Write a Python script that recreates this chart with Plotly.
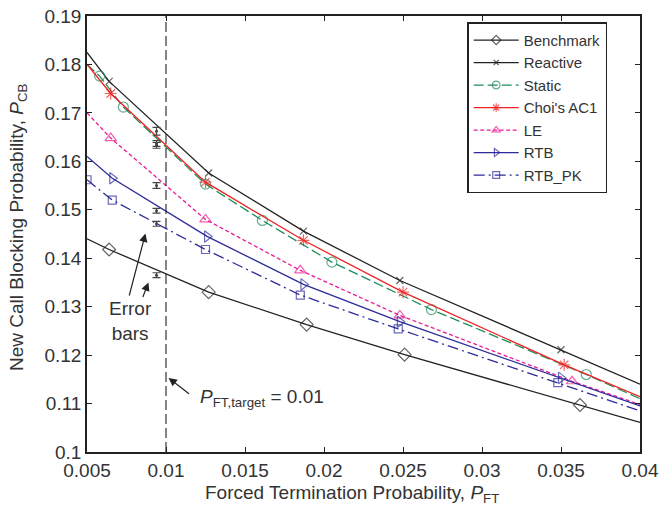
import plotly.graph_objects as go

# ---- data ----
x_ticks = [0.005, 0.01, 0.015, 0.02, 0.025, 0.03, 0.035, 0.04]
x_tick_labels = ["0.005", "0.01", "0.015", "0.02", "0.025", "0.03", "0.035", "0.04"]
y_ticks = [0.1, 0.11, 0.12, 0.13, 0.14, 0.15, 0.16, 0.17, 0.18, 0.19]
y_tick_labels = ["0.1", "0.11", "0.12", "0.13", "0.14", "0.15", "0.16", "0.17", "0.18", "0.19"]

# curve points (flag 0 = curve end drawn without a marker)
bench_x = [0.005, 0.0064, 0.0127, 0.0189, 0.0251, 0.0362, 0.04]
bench_y = [0.1440, 0.1418, 0.1330, 0.1263, 0.1201, 0.1097, 0.1061]
bench_m = [0, 1, 1, 1, 1, 1, 0]

react_x = [0.005, 0.0064, 0.0127, 0.0187, 0.0248, 0.0350, 0.04]
react_y = [0.1825, 0.1765, 0.1576, 0.1456, 0.1354, 0.1211, 0.1140]
react_m = [0, 1, 1, 1, 1, 1, 0]

static_x = [0.005, 0.0058, 0.0073, 0.0125, 0.0161, 0.0205, 0.0268, 0.0366, 0.04]
static_y = [0.1800, 0.1776, 0.1712, 0.1553, 0.1478, 0.1392, 0.1294, 0.1160, 0.1110]
static_m = [0, 1, 1, 1, 1, 1, 1, 1, 0]

choi_x = [0.005, 0.0065, 0.0125, 0.0187, 0.0250, 0.0352, 0.04]
choi_y = [0.1800, 0.1740, 0.1557, 0.1437, 0.1330, 0.1180, 0.1114]
choi_m = [0, 1, 1, 1, 1, 1, 0]

le_x = [0.005, 0.0065, 0.0125, 0.0185, 0.0248, 0.0357, 0.04]
le_y = [0.1700, 0.1648, 0.1480, 0.1375, 0.1282, 0.1146, 0.1098]
le_m = [0, 1, 1, 1, 1, 1, 0]

rtb_x = [0.005, 0.0066, 0.0126, 0.0187, 0.0248, 0.0350, 0.04]
rtb_y = [0.1610, 0.1565, 0.1445, 0.1346, 0.1269, 0.1153, 0.1095]
rtb_m = [0, 1, 1, 1, 1, 1, 0]

rtbpk_x = [0.005, 0.0066, 0.0125, 0.0185, 0.0247, 0.0348, 0.04]
rtbpk_y = [0.1562, 0.1520, 0.1418, 0.1324, 0.1254, 0.1143, 0.1085]
rtbpk_m = [1, 1, 1, 1, 1, 1, 0]

# error bars at P_FT ~ target
err_x = [0.0094, 0.0094, 0.0094, 0.0094, 0.0094, 0.0094, 0.0094]
err_y = [0.1662, 0.1637, 0.1633, 0.1550, 0.1498, 0.1471, 0.1365]
err_h = [0.0008, 0.0006, 0.0006, 0.0006, 0.0005, 0.0005, 0.0005]

target_x = 0.01

series = [
    ("Benchmark", bench_x, bench_y, bench_m, "#222222", "solid", "diamond-open", 10),
    ("Reactive", react_x, react_y, react_m, "#222222", "solid", "x-thin-open", 7),
    ("Static", static_x, static_y, static_m, "#1e8c5c", "10px,4px", "circle-open", 10),
    ("Choi's AC1", choi_x, choi_y, choi_m, "#ee2222", "solid", "asterisk-open", 10),
    ("LE", le_x, le_y, le_m, "#ea1a92", "4px,2.5px", "triangle-up-open", 10),
    ("RTB", rtb_x, rtb_y, rtb_m, "#2b2b9b", "solid", "triangle-right-open", 10),
    ("RTB_PK", rtbpk_x, rtbpk_y, rtbpk_m, "#2b2b9b", "11px,4px,2px,4px", "square-open", 8),
]

fig = go.Figure()
for name, xs, ys, ms, col, dash, sym, sz in series:
    fig.add_trace(go.Scatter(
        x=xs, y=ys, name=name, mode="lines+markers",
        line=dict(color=col, width=1.3, dash=dash),
        marker=dict(symbol=sym, size=[sz if m else 0 for m in ms], color=col,
                    line=dict(color=col, width=1.2)),
    ))

fig.add_trace(go.Scatter(
    x=err_x, y=err_y, mode="markers", showlegend=False,
    marker=dict(size=3, color="#444444"),
    error_y=dict(type="data", array=err_h, color="#444444", thickness=1.2, width=4),
))

fig.add_vline(x=target_x, line=dict(color="#222222", width=1.1, dash="10px,4px"))

font_main = "Liberation Sans, Arial, sans-serif"
txt_col = "#333333"

fig.add_annotation(x=0.00775, y=0.1271, xref="x", yref="y", text="Error<br>bars",
                   showarrow=False, font=dict(size=19, color=txt_col, family=font_main))
fig.add_annotation(x=0.0087, y=0.1451, ax=0.00765, ay=0.1320, axref="x", ayref="y",
                   xref="x", yref="y", text="", showarrow=True, arrowhead=2,
                   arrowsize=1.4, arrowwidth=1.2, arrowcolor="#222222")
fig.add_annotation(x=0.00889, y=0.1350, ax=0.00850, ay=0.1317, axref="x", ayref="y",
                   xref="x", yref="y", text="", showarrow=True, arrowhead=2,
                   arrowsize=1.4, arrowwidth=1.2, arrowcolor="#222222")
fig.add_annotation(x=0.01016, y=0.1153, ax=0.01155, ay=0.1118, axref="x", ayref="y",
                   xref="x", yref="y", text="", showarrow=True, arrowhead=2,
                   arrowsize=1.4, arrowwidth=1.2, arrowcolor="#222222")
fig.add_annotation(x=0.0120, y=0.1112, xref="x", yref="y", xanchor="left",
                   text="<i>P</i><sub>FT,target</sub> = 0.01", showarrow=False,
                   font=dict(size=19, color=txt_col, family=font_main))

# axis titles
fig.add_annotation(x=0.4788, y=-0.097, xref="paper", yref="paper",
                   xanchor="center", yanchor="middle", showarrow=False,
                   text="Forced Termination Probability, <i>P</i><sub>FT</sub>",
                   font=dict(size=19, color=txt_col, family=font_main))
fig.add_annotation(x=-0.1238, y=0.515, xref="paper", yref="paper",
                   xanchor="center", yanchor="middle", showarrow=False, textangle=-90,
                   text="New Call Blocking Probability, <i>P</i><sub>CB</sub>",
                   font=dict(size=19, color=txt_col, family=font_main))

axis_common = dict(showline=True, linecolor="#222222", linewidth=1.5, mirror="ticks",
                   ticks="inside", ticklen=5, tickcolor="#222222", showgrid=False,
                   zeroline=False, automargin=False, ticklabeloverflow="allow",
                   tickfont=dict(size=19, color=txt_col, family=font_main))

fig.update_xaxes(range=[0.005, 0.04], tickvals=x_ticks, ticktext=x_tick_labels, **axis_common)
fig.update_yaxes(range=[0.1, 0.19], tickvals=y_ticks, ticktext=y_tick_labels, **axis_common)

fig.update_layout(
    width=660, height=510,
    margin=dict(l=86.5, r=20, t=15.7, b=58.3, autoexpand=False),
    plot_bgcolor="white", paper_bgcolor="white",
    font=dict(family=font_main, color=txt_col),
    legend=dict(x=0.6875, y=0.9856, xanchor="left", yanchor="top",
                bordercolor="#222222", borderwidth=1.5, bgcolor="white",
                font=dict(size=15, color=txt_col, family=font_main),
                tracegroupgap=0, itemwidth=45),
)

# remove the default page margin so the 660x510 figure fills the window exactly
fig.write_html("out.html", config={"displayModeBar": False},
               post_script="document.body.style.margin='0';document.body.style.overflow='hidden';")
